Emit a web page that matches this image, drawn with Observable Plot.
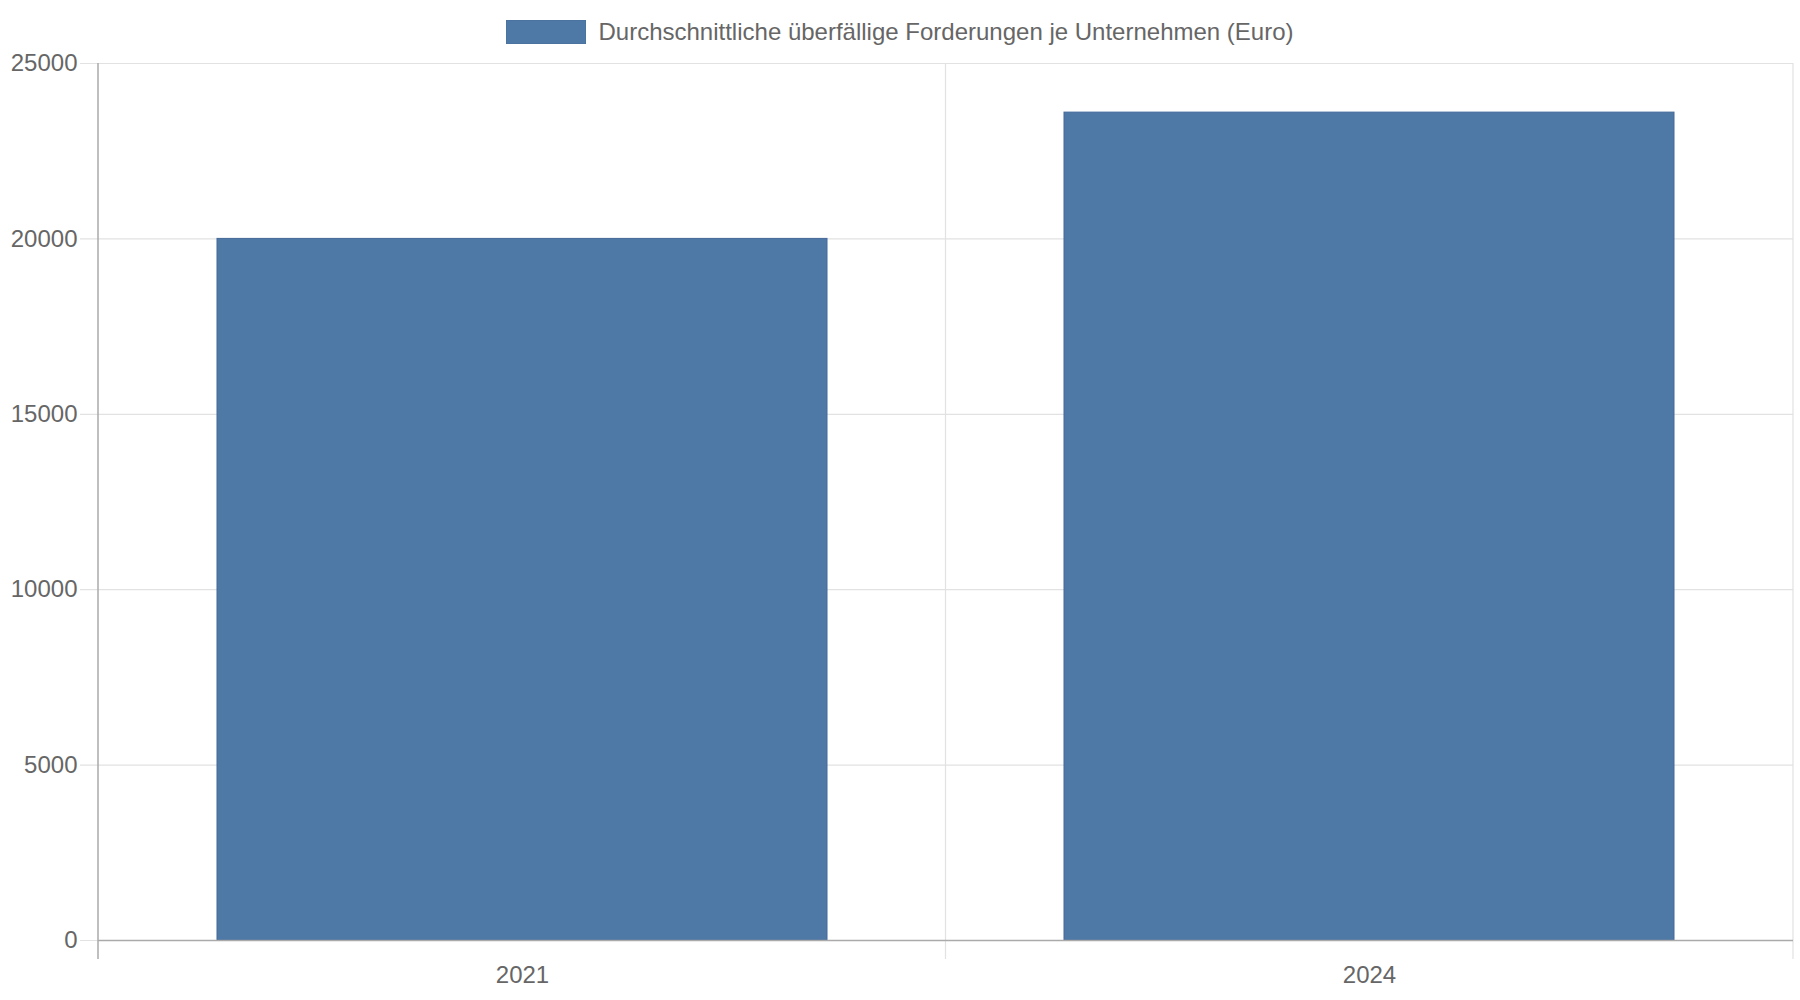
<!DOCTYPE html>
<html>
<head>
<meta charset="utf-8">
<script src="https://cdn.jsdelivr.net/npm/d3@7"></script>
<script src="https://cdn.jsdelivr.net/npm/@observablehq/plot@0.6"></script>
<style>
  html, body { margin: 0; padding: 0; background: #fff; }
  body { width: 1800px; height: 1000px; overflow: hidden; font-family: "Liberation Sans", Arial, Helvetica, sans-serif; }
  #legend { height: 50px; display: flex; justify-content: center; align-items: flex-start; }
  #legend .item { display: flex; align-items: center; margin-top: 19px; }
  #legend .swatch { width: 80px; height: 24px; background: #4e79a7; border: 1px solid #4a73a0; box-sizing: border-box; margin-right: 12px; }
  #legend .label { font-size: 24px; color: #666; line-height: 26px; }
</style>
</head>
<body>
<div id="legend"><div class="item"><div class="swatch"></div><div class="label"></div></div></div>
<div id="chart"></div>
<script>
const seriesName = "Durchschnittliche überfällige Forderungen je Unternehmen (Euro)";
const years = ["2021", "2024"];
const values = [20000, 23600];
const yTicks = [0, 5000, 10000, 15000, 20000, 25000];

document.querySelector("#legend .label").textContent = seriesName;

const data = years.map((year, i) => ({year, value: values[i]}));

const gridColor = "#e2e2e2";
const axisColor = "#aaaaaa";
const textColor = "#666666";

function boundaryLines(index, scales, values, dimensions) {
  const {width, height, marginLeft, marginRight, marginTop, marginBottom} = dimensions;
  const n = years.length;
  const step = (width - marginLeft - marginRight) / n;
  const g = d3.create("svg:g");
  const y1 = marginTop;
  const y2 = height - marginBottom + 19;
  for (let k = 0; k <= n; k++) {
    const px = marginLeft + k * step;
    g.append("line")
      .attr("x1", px).attr("x2", px)
      .attr("y1", y1).attr("y2", y2)
      .attr("stroke", k === 0 ? axisColor : gridColor)
      .attr("stroke-width", k === 0 ? 1.5 : 1.2);
  }
  return g.node();
}

const chart = Plot.plot({
  width: 1800,
  height: 950,
  marginLeft: 98,
  marginRight: 7,
  marginTop: 13,
  marginBottom: 60,
  style: {fontFamily: '"Liberation Sans", Arial, Helvetica, sans-serif', background: "#fff"},
  x: {type: "band", domain: years, paddingInner: 0.28, paddingOuter: 0.14, axis: null},
  y: {domain: [0, 25000], axis: null},
  marks: [
    Plot.ruleY(yTicks, {stroke: gridColor, strokeWidth: 1.2, insetLeft: -18}),
    boundaryLines,
    Plot.barY(data, {x: "year", y: "value", fill: "#4e79a7", stroke: "#44699a", strokeWidth: 1}),
    Plot.ruleY([0], {stroke: axisColor, strokeWidth: 1.5}),
    Plot.axisY({ticks: yTicks, tickSize: 0, tickPadding: 21, fontSize: 24, fill: textColor, label: null, tickFormat: d => String(d)}),
    Plot.axisX({tickSize: 0, tickPadding: 25, fontSize: 24, fill: textColor, label: null})
  ]
});
document.getElementById("chart").appendChild(chart);
</script>
</body>
</html>
